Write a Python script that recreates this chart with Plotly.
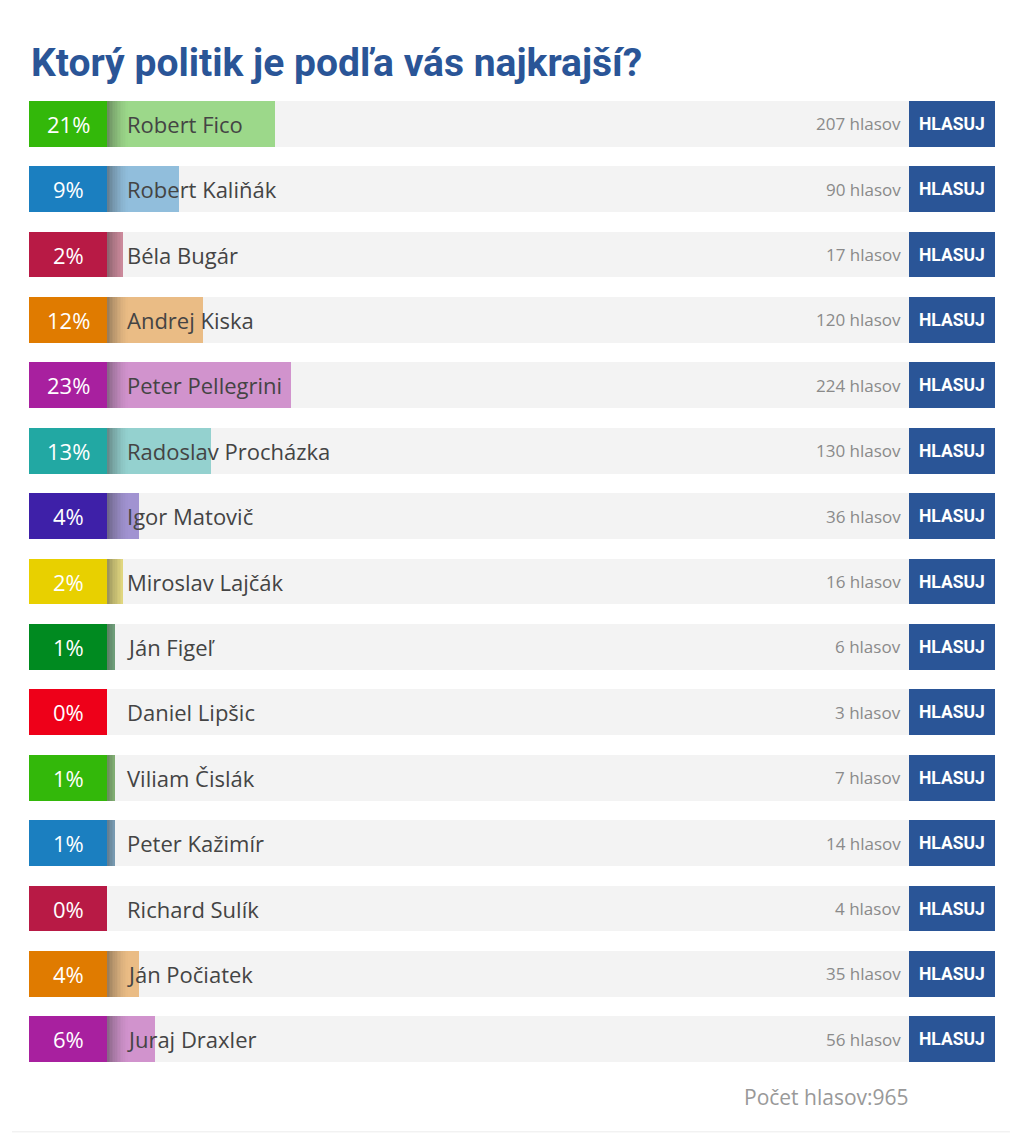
import plotly.graph_objects as go

# poll data
names = ["Robert Fico", "Robert Kaliňák", "Béla Bugár", "Andrej Kiska", "Peter Pellegrini",
         "Radoslav Procházka", "Igor Matovič", "Miroslav Lajčák", "Ján Figeľ", "Daniel Lipšic",
         "Viliam Čislák", "Peter Kažimír", "Richard Sulík", "Ján Počiatek", "Juraj Draxler"]
percents = [21, 9, 2, 12, 23, 13, 4, 2, 1, 0, 1, 1, 0, 4, 6]
votes = [207, 90, 17, 120, 224, 130, 36, 16, 6, 3, 7, 14, 4, 35, 56]
box_colors = ["#33b80a", "#1b7fc0", "#b81a45", "#e07b00", "#a8209f",
              "#22a8a3", "#3e20a8", "#e8d000", "#008a20", "#ee0019",
              "#33b80a", "#1b7fc0", "#b81a45", "#e07b00", "#a8209f"]
total_votes = 965

title = "Ktorý politik je podľa vás najkrajší?"
button_label = "HLASUJ"

BLUE = "#2a5597"
BOX_W = 9.73     # width of percent box in % units (left of the bar)
BTN_W = 10.72    # width of HLASUJ button
ROW_W = 0.703

rows = list(range(len(names)))


def hex_to_rgba(h, a):
    h = h.lstrip("#")
    return "rgba(%d,%d,%d,%.2f)" % (int(h[0:2], 16), int(h[2:4], 16), int(h[4:6], 16), a)


fig = go.Figure()

# grey background track
fig.add_trace(go.Bar(y=rows, x=[100] * len(rows), base=0, orientation="h", width=ROW_W,
                     marker=dict(color="#f3f3f3", line_width=0), hoverinfo="skip"))

# coloured result bars
fig.add_trace(go.Bar(y=rows, x=percents, base=0, orientation="h", width=ROW_W,
                     marker=dict(color=[hex_to_rgba(c, 0.45) for c in box_colors], line_width=0),
                     hoverinfo="skip"))

# inset shadow at the left end of each bar (stacked thin slices)
seg = 0.2
n_seg = 13
for k in range(n_seg):
    a = 0.42 * (1 - k / n_seg) ** 1.5
    fig.add_trace(go.Bar(y=rows, x=[max(0, min(p - k * seg, seg)) for p in percents],
                         base=k * seg, orientation="h", width=ROW_W,
                         marker=dict(color="rgba(40,40,40,%.3f)" % a, line_width=0),
                         hoverinfo="skip"))

# percentage boxes
fig.add_trace(go.Bar(y=rows, x=[BOX_W] * len(rows), base=-BOX_W, orientation="h", width=ROW_W,
                     marker=dict(color=box_colors, line_width=0), hoverinfo="skip"))

# vote buttons
fig.add_trace(go.Bar(y=rows, x=[BTN_W] * len(rows), base=100, orientation="h", width=ROW_W,
                     marker=dict(color=BLUE, line_width=0), hoverinfo="skip"))

for i in rows:
    fig.add_annotation(x=-BOX_W / 2, y=i, text="%d%%" % percents[i], showarrow=False,
                       font=dict(family="Open Sans", size=22, color="white"))
    fig.add_annotation(x=2.3, y=i, text=names[i], showarrow=False, xanchor="left",
                       font=dict(family="Open Sans", size=22, color="#444444"))
    fig.add_annotation(x=99.2, y=i, text="%d hlasov" % votes[i], showarrow=False, xanchor="right",
                       font=dict(family="Open Sans", size=17, color="#8a8a8a"))
    fig.add_annotation(x=100 + BTN_W / 2, y=i, text="<b>%s</b>" % button_label, showarrow=False,
                       font=dict(family="Roboto", size=17.5, color="white"))

# title and footer
fig.add_annotation(xref="paper", yref="paper", x=0, y=1.0285, text="<b>%s</b>" % title,
                   showarrow=False, xanchor="left", yanchor="middle",
                   font=dict(family="Roboto", size=39, color=BLUE))
fig.add_annotation(xref="paper", yref="paper", x=0.913, y=-0.0255,
                   text="Počet hlasov:%d" % total_votes, showarrow=False,
                   xanchor="right", yanchor="middle",
                   font=dict(family="Open Sans", size=21, color="#999999"))
fig.add_shape(type="line", xref="paper", yref="paper", x0=-0.0176, x1=1.0155, y0=-0.061, y1=-0.061,
              line=dict(color="#ececec", width=1))

fig.update_layout(
    width=1008, height=1126,
    margin=dict(l=21, r=21, t=83, b=62),
    barmode="overlay", bargap=0,
    showlegend=False,
    plot_bgcolor="white", paper_bgcolor="white",
    xaxis=dict(range=[-BOX_W, 100 + BTN_W], visible=False, fixedrange=True),
    yaxis=dict(range=[len(rows) - 0.5, -0.5], visible=False, fixedrange=True),
)

fig.write_html("out.html")
